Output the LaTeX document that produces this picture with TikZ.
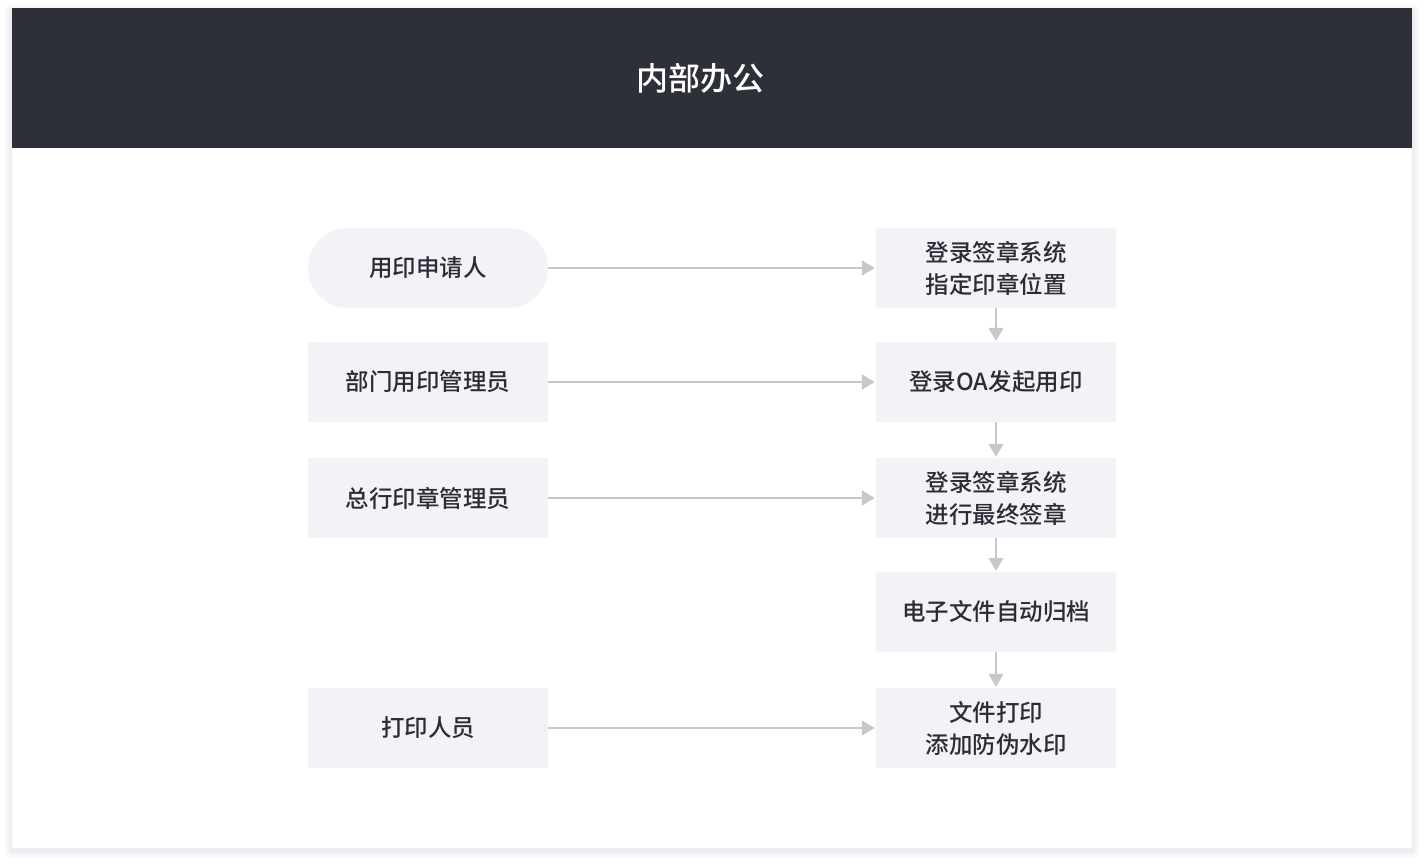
\documentclass[tikz,border=0pt]{standalone}
\usepackage{fontspec}
\setmainfont{Noto Sans CJK SC Medium}
\usetikzlibrary{arrows.meta}
\definecolor{hdr}{HTML}{2E3039}
\definecolor{boxfill}{HTML}{F3F3F7}
\definecolor{txt}{HTML}{2A2C36}
\definecolor{arr}{HTML}{C8C8CC}
\tikzset{
  stepbox/.style={fill=boxfill, minimum width=240pt, minimum height=80pt, inner sep=0pt, align=center, text=txt, font=\fontsize{23.5}{32}\selectfont},
  pill/.style={stepbox, rounded corners=40pt},
  flow/.style={draw=arr, line width=1.6pt, -{Triangle[length=13pt,width=15pt]}, shorten >=1pt}
}
\begin{document}
\begin{tikzpicture}[x=1pt,y=-1pt]
\useasboundingbox (0,0) rectangle (1424,864);
\fill[white] (0,0) rectangle (1424,864);
% shadow
\foreach \i/\o in {8/0.012,6/0.016,4/0.02,2/0.025} {
  \fill[black!60!blue, opacity=\o, rounded corners=\i pt] (12-\i,8-\i+3) rectangle (1412+\i,848+\i+3);
}
\fill[white] (12,8) rectangle (1412,848);
\fill[hdr] (12,8) rectangle (1412,148);
\node (title) at (700,78) {\color{white}\fontsize{32}{36}\selectfont 内部办公};

\node[pill]    (l1) at (428,268) {用印申请人};
\node[stepbox] (l2) at (428,382) {部门用印管理员};
\node[stepbox] (l3) at (428,498) {总行印章管理员};
\node[stepbox] (l5) at (428,728) {打印人员};

\node[stepbox] (r1) at (996,268) {登录签章系统\\指定印章位置};
\node[stepbox] (r2) at (996,382) {登录OA发起用印};
\node[stepbox] (r3) at (996,498) {登录签章系统\\进行最终签章};
\node[stepbox] (r4) at (996,612) {电子文件自动归档};
\node[stepbox] (r5) at (996,728) {文件打印\\添加防伪水印};

\draw[flow] (l1) -- (r1);
\draw[flow] (l2) -- (r2);
\draw[flow] (l3) -- (r3);
\draw[flow] (l5) -- (r5);
\draw[flow] (r1) -- (r2);
\draw[flow] (r2) -- (r3);
\draw[flow] (r3) -- (r4);
\draw[flow] (r4) -- (r5);
\end{tikzpicture}
\end{document}
